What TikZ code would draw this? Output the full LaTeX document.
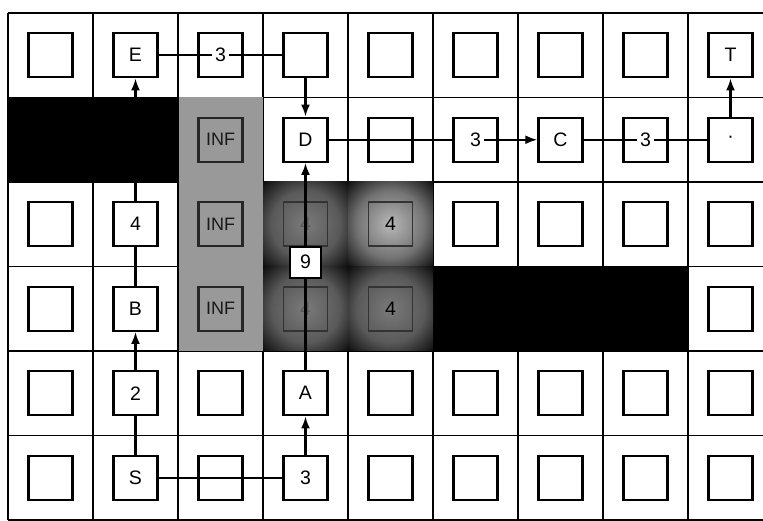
\documentclass[tikz,border=0pt]{standalone}
\usepackage{fontspec}
\setmainfont{Liberation Sans}
\usetikzlibrary{arrows.meta}
\pgfdeclareradialshading{glowA}{\pgfpoint{0bp}{0bp}}{color(0bp)=(black!52);color(20bp)=(black!65);color(38bp)=(black);color(50bp)=(black)}
\pgfdeclareradialshading{glowB}{\pgfpoint{0bp}{0bp}}{color(0bp)=(black!28);color(20bp)=(black!55);color(38bp)=(black);color(50bp)=(black)}
\tikzset{
  gridline/.style={line width=1.8pt},
  lbl/.style={font=\fontsize{19.5}{23}\selectfont},
  cellbox/.style={draw, line width=2.4pt, minimum size=44pt, inner sep=0pt, fill=white, lbl},
  infbox/.style={cellbox, fill=black!40, draw=black!85, text=black!90, font=\fontsize{18}{21}\selectfont},
  darkbox/.style={cellbox, fill=none, draw=black!80, line width=1.8pt},
  ninebox/.style={cellbox, minimum size=31pt},
  digit/.style={inner sep=3pt, lbl},
  link/.style={line width=2.1pt},
  arr/.style={link, -{Latex[length=12pt,width=9pt]}},
}
\begin{document}
\begin{tikzpicture}[x=85pt, y=-84.5pt]
\useasboundingbox (-8pt,13pt) rectangle (755pt,-508pt);
\clip (-8pt,13pt) rectangle (755pt,-508pt);
\fill[white] (-8pt,13pt) rectangle (755pt,-508pt);
% grid
\foreach \i in {0,...,9} \draw[gridline] (\i,0) -- (\i,6);
\foreach \j in {0,...,6} \draw[gridline] (0,\j) -- (9,\j);
% blocked and weighted areas
\fill[black] (0,1) rectangle (2,2);
\fill[black] (5,3) rectangle (8,4);
\fill[black!40] (2,1) rectangle (3,4);
\shade[shading=glowA] (3,2) rectangle (4,3);
\shade[shading=glowB] (4,2) rectangle (5,3);
\shade[shading=glowA] (3,3) rectangle (4,4);
\shade[shading=glowA] (4,3) rectangle (5,4);
\draw[gridline] (2,1) -- (2,4);
% empty squares
\foreach \i/\j in {0/0,3/0,4/0,5/0,6/0,7/0,4/1,0/2,5/2,6/2,7/2,8/2,0/3,8/3,0/4,2/4,4/4,5/4,6/4,7/4,8/4,0/5,2/5,4/5,5/5,6/5,7/5,8/5}
  \node[cellbox] (c\i\j) at (\i+0.5,\j+0.5) {};
% labelled squares
\node[cellbox] (E) at (1.5,0.5) {E};
\node[cellbox] (b3a) at (2.5,0.5) {};
\node[digit] (t3a) at (2.5,0.5) {3};
\node[cellbox] (T) at (8.5,0.5) {T};
\node[cellbox] (D) at (3.5,1.5) {D};
\node[cellbox] (b3b) at (5.5,1.5) {};
\node[digit] (t3b) at (5.5,1.5) {3};
\node[cellbox] (C) at (6.5,1.5) {C};
\node[cellbox] (b3c) at (7.5,1.5) {};
\node[digit] (t3c) at (7.5,1.5) {3};
\node[cellbox] (dot) at (8.5,1.5) {·};
\node[cellbox] (four) at (1.5,2.5) {4};
\node[cellbox] (B) at (1.5,3.5) {B};
\node[cellbox] (two) at (1.5,4.5) {2};
\node[cellbox] (A) at (3.5,4.5) {A};
\node[cellbox] (S) at (1.5,5.5) {S};
\node[cellbox] (b3d) at (3.5,5.5) {3};
% infinite cost squares
\node[infbox] (inf1) at (2.5,1.5) {INF};
\node[infbox] (inf2) at (2.5,2.5) {INF};
\node[infbox] (inf3) at (2.5,3.5) {INF};
% dark weighted squares
\node[darkbox, text=black!65] (d32) at (3.5,2.5) {4};
\node[darkbox] (d42) at (4.5,2.5) {4};
\node[darkbox, text=black!65] (d33) at (3.5,3.5) {4};
\node[darkbox] (d43) at (4.5,3.5) {4};
% connectors
\draw[link] (S) -- (two);
\draw[arr] (two) -- (B);
\draw[link] (B) -- (four);
\draw[arr] (four) -- (E);
\draw[link] (E) -- (t3a);
\draw[link] (t3a) -- (c30);
\draw[arr] (c30) -- (D);
\draw[link] (D) -- (b3b);
\draw[arr] (t3b) -- (C);
\draw[link] (C) -- (t3c);
\draw[link] (t3c) -- (dot);
\draw[arr] (dot) -- (T);
\draw[link] (S) -- (b3d);
\draw[arr] (b3d) -- (A);
\draw[link] (A) -- (d33.center);
\node[ninebox] (nine) at (3.5,2.95) {9};
\draw[link] (d33.center) -- (nine);
\draw[arr] (nine) -- (D);
\end{tikzpicture}
\end{document}
